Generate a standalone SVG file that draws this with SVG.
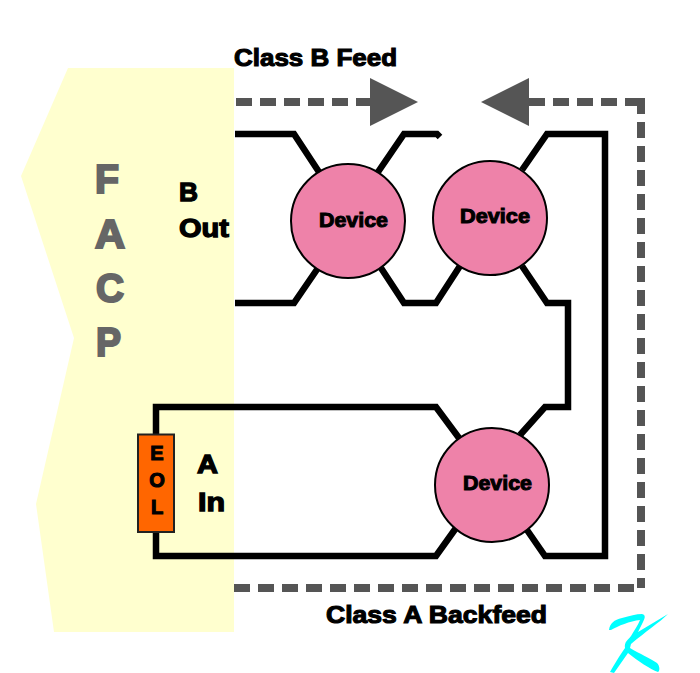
<svg xmlns="http://www.w3.org/2000/svg" width="700" height="673" viewBox="0 0 700 673">
<style>
text{font-family:"Liberation Sans",Arial,sans-serif;font-weight:700;fill:#000;stroke:#000;stroke-width:1.1;paint-order:stroke}
.facp{font-size:41px;fill:#666;stroke:#666;stroke-width:2.2}
.lbl{font-size:26.500px;stroke-width:1.3}
.ttl{font-size:24.500px;stroke-width:1.1}
.dev{font-size:19.500px;stroke-width:1}
.eol{font-size:20px;text-anchor:middle;stroke-width:1.1}
.wire{fill:none;stroke:#000;stroke-width:6.500;stroke-linejoin:miter}
.dash{fill:none;stroke:#555;stroke-width:8;stroke-dasharray:16 8}
.head{fill:#555}
.circle{fill:#ee82a9;stroke:#000;stroke-width:2}
</style>
<rect width="700" height="673" fill="#fff"/>
<g id="facp">
<polygon points="68,68 234,68 234,632 54,632 36,504 74,338 21,176" fill="#ffffcf"/>
<text class="facp" x="95" y="193" textLength="24" lengthAdjust="spacingAndGlyphs">F</text>
<text class="facp" x="95" y="248" textLength="30" lengthAdjust="spacingAndGlyphs">A</text>
<text class="facp" x="96" y="302" textLength="28" lengthAdjust="spacingAndGlyphs">C</text>
<text class="facp" x="96" y="356" textLength="25" lengthAdjust="spacingAndGlyphs">P</text>
<text class="lbl" x="179" y="201" textLength="19" lengthAdjust="spacingAndGlyphs">B</text>
<text class="lbl" x="179" y="237" textLength="50" lengthAdjust="spacingAndGlyphs">Out</text>
<text class="lbl" x="197" y="473" textLength="21" lengthAdjust="spacingAndGlyphs">A</text>
<text class="lbl" x="198" y="511" textLength="27" lengthAdjust="spacingAndGlyphs">In</text>
</g>
<g id="connectors">
<path class="wire" d="M235,134H294L319,172"/>
<path class="wire" d="M235,303H294L318,268"/>
<path class="wire" d="M378,172L404,134H437L440,137"/>
<path class="wire" d="M381,268L404,303H436L460,266"/>
<path class="wire" d="M522,170L547,134H605V556H545L527,530"/>
<path class="wire" d="M522,266L547,303H568V407H545L520,435"/>
<path class="wire" d="M459,438L436,407H156V556H436L456,528"/>
<path class="dash" d="M236,102H372"/>
<path class="dash" d="M529,102H637"/>
<path class="dash" d="M641,98V588"/>
<path class="dash" d="M234,588H637"/>
<polygon class="head" points="370,78 418,102 370,126"/>
<polygon class="head" points="481,102 529,78 529,126"/>
</g>
<g id="device-1"><circle class="circle" cx="348" cy="221" r="57"/><text class="dev" x="319" y="227" textLength="69" lengthAdjust="spacingAndGlyphs">Device</text></g>
<g id="device-2"><circle class="circle" cx="490" cy="218" r="57"/><text class="dev" x="460" y="223" textLength="70" lengthAdjust="spacingAndGlyphs">Device</text></g>
<g id="device-3"><circle class="circle" cx="492" cy="485" r="57"/><text class="dev" x="463" y="490" textLength="69" lengthAdjust="spacingAndGlyphs">Device</text></g>
<g id="eol">
<rect x="138" y="434.500" width="36" height="97.500" fill="#f60" stroke="#222" stroke-width="2"/>
<text class="eol" x="157" y="460">E</text>
<text class="eol" x="157" y="487">O</text>
<text class="eol" x="157" y="514">L</text>
</g>
<text class="ttl" x="234" y="66" textLength="163" lengthAdjust="spacingAndGlyphs">Class B Feed</text>
<text class="ttl" x="326" y="623" textLength="221" lengthAdjust="spacingAndGlyphs">Class A Backfeed</text>
<path id="logo" fill="#0ff" d="M609,630C610,623 614,620 622,618C630,616 636,614 642,614C646,615 645,618 643,622L638,632L668,614C660,622 645,632 631,644L630,648C640,654 650,658 657,663C660,666 660,671 658,672C650,669 638,661 628,653L614,673L610,672C614,665 620,655 625,648C624,642 628,640 631,636C634,631 638,625 640,620C630,621 618,626 611,630Z"/>
</svg>
